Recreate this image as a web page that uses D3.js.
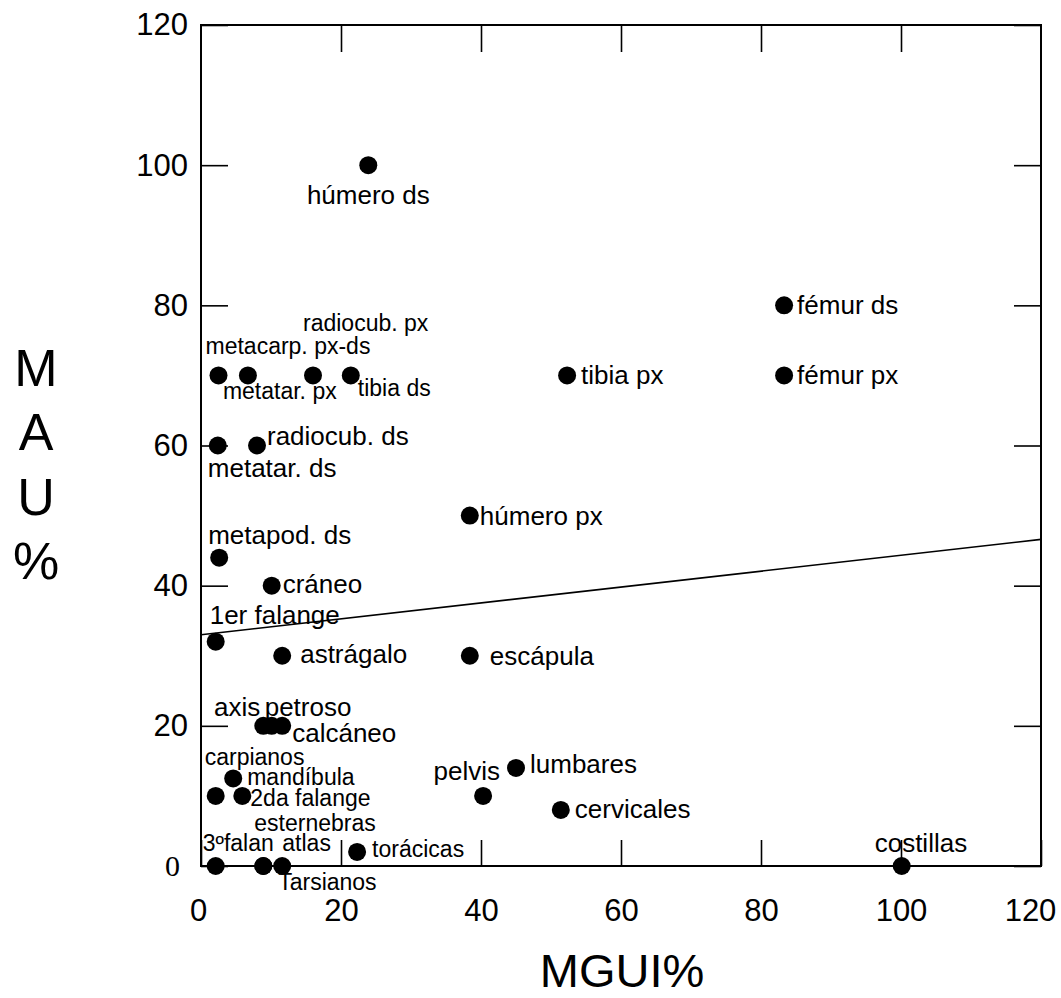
<!DOCTYPE html>
<meta charset="utf-8">
<title>MAU% vs MGUI%</title>
<style>
body { margin: 0; background: #fff; }
text { font-family: Arial, "Liberation Sans", sans-serif; fill: #000; }
.frame { fill: none; stroke: #000; stroke-width: 2px; }
.axis path { display: none; }
.axis line { stroke: #000; stroke-width: 1.6px; }
.axis text { font-size: 31px; }
</style>
<svg></svg>
<script src="https://cdn.jsdelivr.net/npm/d3@7"></script>
<script>
// elementos oseos, MGUI% (x) y MAU% (y)
var names = ["húmero ds", "fémur ds", "fémur px", "tibia px", "metacarp. px-ds", "metatar. px",
  "radiocub. px", "tibia ds", "metatar. ds", "radiocub. ds", "húmero px", "metapod. ds",
  "cráneo", "1er falange", "astrágalo", "escápula", "axis", "petroso", "calcáneo",
  "mandíbula", "carpianos", "2da falange", "lumbares", "pelvis", "cervicales",
  "torácicas", "3ºfalan", "atlas", "esternebras", "Tarsianos", "costillas"];
var mgui = [23.9, 83.3, 83.3, 52.3, 2.5, 6.7,
  16.0, 21.4, 2.4, 8.0, 38.4, 2.6,
  10.1, 2.1, 11.6, 38.4, 8.9, 10.1, 11.6,
  4.6, 2.1, 5.9, 45.0, 40.3, 51.4,
  22.3, 2.1, 8.9, 8.9, 11.6, 100.1];
var mau = [100, 80, 70, 70, 70, 70,
  70, 70, 60, 60, 50, 44,
  40, 32, 30, 30, 20, 20, 20,
  12.5, 10, 10, 14, 10, 8,
  2, 0, 0, 0, 0, 0];
// recta de regresion
var fitX = [0, 120];
var fitY = [33, 46.6];
var xTicks = [0, 20, 40, 60, 80, 100, 120];
var yTicks = [0, 20, 40, 60, 80, 100, 120];

// label placement: [dx, dy, anchor, font size]
var labelPos = {
  "húmero ds": [0, 39, "middle", 26], "fémur ds": [13, 9, "start", 26], "fémur px": [13, 9, "start", 26],
  "tibia px": [14, 9, "start", 26], "metacarp. px-ds": [-13, -21, "start", 23], "metatar. px": [-25, 24, "start", 23],
  "radiocub. px": [-10, -44, "start", 23], "tibia ds": [7, 21, "start", 23], "metatar. ds": [-10, 31, "start", 26],
  "radiocub. ds": [10, -1, "start", 26], "húmero px": [10, 9, "start", 26], "metapod. ds": [-11, -14, "start", 26],
  "cráneo": [11, 7, "start", 26], "1er falange": [-6, -18, "start", 26], "astrágalo": [18, 7, "start", 26],
  "escápula": [20, 9, "start", 26], "axis": [-3, -10, "end", 26], "petroso": [-7, -10, "start", 26],
  "calcáneo": [10, 16, "start", 26], "mandíbula": [14, 7, "start", 23], "carpianos": [-11, -31, "start", 23],
  "2da falange": [8, 10, "start", 23], "lumbares": [14, 5, "start", 26], "pelvis": [17, -16, "end", 26],
  "cervicales": [14, 8, "start", 26], "torácicas": [15, 5, "start", 23], "3ºfalan": [-13, -15, "start", 23],
  "atlas": [19, -15, "start", 23], "esternebras": [-9, -35, "start", 23], "Tarsianos": [-4, 24, "start", 23],
  "costillas": [-27, -14, "start", 26]
};

var width = 1061, height = 998;
var svg = d3.select("svg").attr("width", width).attr("height", height);

var x = d3.scaleLinear().domain([0, 120]).range([201, 1041]);
var y = d3.scaleLinear().domain([0, 120]).range([866, 25]);

// axes (ticks pointing inward)
var xb = svg.append("g").attr("class", "axis")
    .attr("transform", "translate(0," + y(0) + ")")
    .call(d3.axisBottom(x).tickValues(xTicks).tickSize(-26).tickPadding(33).tickFormat(d3.format("d")));
xb.selectAll(".tick").filter(function(d) { return d === 120; }).select("text").attr("x", -11);
xb.selectAll(".tick").filter(function(d) { return d === 0; }).select("text").attr("x", -3);
svg.append("g").attr("class", "axis")
    .attr("transform", "translate(0," + y(120) + ")")
    .call(d3.axisTop(x).tickValues(xTicks.slice(1, -1)).tickSize(-27).tickFormat(""));
var yl = svg.append("g").attr("class", "axis")
    .attr("transform", "translate(" + x(0) + ",0)")
    .call(d3.axisLeft(y).tickValues(yTicks).tickSize(-27).tickPadding(13).tickFormat(d3.format("d")));
yl.selectAll(".tick").filter(function(d) { return d === 0; }).select("text")
    .attr("x", -21)
    .style("font-family", "'Liberation Serif', 'Times New Roman', serif")
    .style("font-size", "30px");
svg.append("g").attr("class", "axis")
    .attr("transform", "translate(" + x(120) + ",0)")
    .call(d3.axisRight(y).tickValues(yTicks).tickSize(-27).tickFormat(""));

// frame
svg.append("rect").attr("class", "frame")
    .attr("x", x(0)).attr("y", y(120))
    .attr("width", x(120) - x(0)).attr("height", y(0) - y(120));

// regression line
svg.append("line")
    .attr("x1", x(fitX[0])).attr("y1", y(fitY[0]))
    .attr("x2", x(fitX[1])).attr("y2", y(fitY[1]))
    .style("stroke", "#000").style("stroke-width", 1.6);

var pts = names.map(function(n, i) { return { name: n, x: mgui[i], y: mau[i] }; });

svg.append("g").selectAll("circle")
    .data(pts)
  .enter().append("circle")
    .attr("cx", function(d) { return x(d.x); })
    .attr("cy", function(d) { return y(d.y); })
    .attr("r", 9)
    .style("fill", "#000");

svg.append("g").selectAll("text")
    .data(pts)
  .enter().append("text")
    .attr("x", function(d) { return x(d.x) + labelPos[d.name][0]; })
    .attr("y", function(d) { return y(d.y) + labelPos[d.name][1]; })
    .attr("text-anchor", function(d) { return labelPos[d.name][2]; })
    .style("font-size", function(d) { return labelPos[d.name][3] + "px"; })
    .text(function(d) { return d.name; });

// axis titles
svg.append("text")
    .attr("x", 622).attr("y", 987)
    .attr("text-anchor", "middle")
    .style("font-size", "47px")
    .text("MGUI%");
svg.append("g").selectAll("text")
    .data(["M", "A", "U", "%"])
  .enter().append("text")
    .attr("x", 36)
    .attr("y", function(d, i) { return 386 + i * 64.3; })
    .attr("text-anchor", "middle")
    .style("font-size", "52px")
    .text(function(d) { return d; });
</script>
